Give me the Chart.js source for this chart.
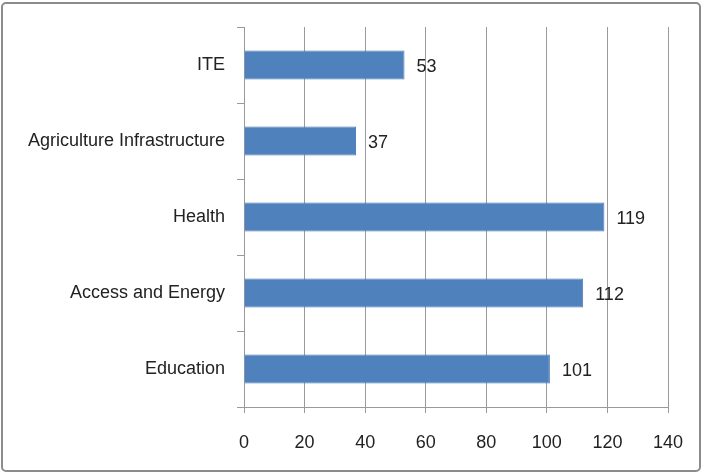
<!DOCTYPE html>
<html>
<head>
<meta charset="utf-8">
<script src="https://cdn.jsdelivr.net/npm/chart.js@4"></script>
<style>
  html, body { margin: 0; padding: 0; background: #fff; }
  #wrap { width: 703px; height: 474px; }
</style>
</head>
<body>
<div id="wrap"><canvas id="barChart" width="703" height="474"></canvas></div>
<script>
// Categorías y valores
const sectors = ['ITE', 'Agriculture Infrastructure', 'Health', 'Access and Energy', 'Education'];
const projects = [53, 37, 119, 112, 101];
const xTicks = [0, 20, 40, 60, 80, 100, 120, 140];

const fontFamily = '"Liberation Sans", Arial, sans-serif';

// Marco gris alrededor de todo el gráfico
const frame = {
    id: 'frame',
    beforeDraw(chart) {
        const c = chart.ctx;
        c.save();
        c.fillStyle = '#fff';
        c.fillRect(0, 0, chart.width, chart.height);
        c.strokeStyle = '#8c8c8c';
        c.lineWidth = 2;
        c.beginPath();
        c.roundRect(2, 3, chart.width - 5, chart.height - 6, 4);
        c.stroke();
        c.restore();
    }
};

// Etiquetas de valor a la derecha de cada barra
const valueLabels = {
    id: 'valueLabels',
    afterDatasetsDraw(chart) {
        const c = chart.ctx;
        const meta = chart.getDatasetMeta(0);
        c.save();
        c.font = '18px ' + fontFamily;
        c.fillStyle = '#222';
        c.textBaseline = 'middle';
        meta.data.forEach((bar, i) => {
            c.fillText(String(projects[i]), bar.x + 12, bar.y + 2);
        });
        c.restore();
    }
};

const ctx = document.getElementById('barChart').getContext('2d');

new Chart(ctx, {
    type: 'bar',
    data: {
        labels: sectors,
        datasets: [{
            data: projects,
            backgroundColor: '#4f81bd',
            borderColor: '#4a7ab4',
            borderWidth: 1,
            categoryPercentage: 1,
            barPercentage: 0.38
        }]
    },
    options: {
        indexAxis: 'y',
        responsive: false,
        animation: false,
        layout: { padding: { left: 8, right: 35, top: 27, bottom: 0 } },
        scales: {
            x: {
                min: 0,
                max: 140,
                afterBuildTicks(scale) {
                    scale.ticks = xTicks.map(v => ({ value: v }));
                },
                afterFit(scale) { scale.height = 67; },
                grid: {
                    color: '#9a9a9a',
                    lineWidth: 1,
                    drawTicks: true,
                    tickLength: 6
                },
                border: { color: '#9a9a9a' },
                ticks: {
                    color: '#222',
                    padding: 19,
                    font: { family: fontFamily, size: 18 }
                }
            },
            y: {
                afterFit(scale) { scale.width = 236; },
                grid: {
                    drawOnChartArea: false,
                    drawTicks: true,
                    tickLength: 7,
                    color: '#9a9a9a',
                    offset: true
                },
                border: { color: '#9a9a9a' },
                ticks: {
                    color: '#222',
                    padding: 12,
                    font: { family: fontFamily, size: 18 }
                }
            }
        },
        plugins: {
            legend: { display: false },
            tooltip: { enabled: false }
        }
    },
    plugins: [frame, valueLabels]
});
</script>
</body>
</html>
